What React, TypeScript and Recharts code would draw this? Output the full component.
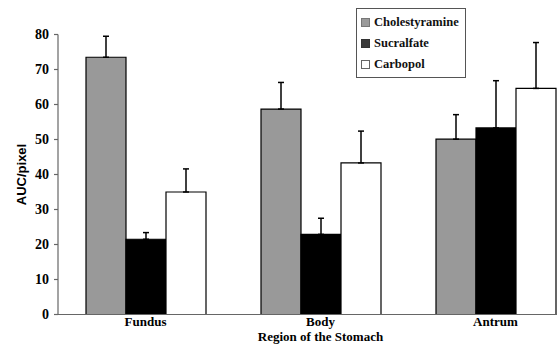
import React from 'react';
import { BarChart, Bar, XAxis, YAxis, ErrorBar } from 'recharts';

const categories = ['Fundus', 'Body', 'Antrum'];
const cholestyramine = [73.5, 58.7, 50.1];
const cholestyramineErr = [6.0, 7.6, 7.0];
const sucralfate = [21.5, 22.9, 53.3];
const sucralfateErr = [1.9, 4.6, 13.5];
const carbopol = [35.0, 43.3, 64.6];
const carbopolErr = [6.6, 9.1, 13.1];
const yTicks = [0, 10, 20, 30, 40, 50, 60, 70, 80];

const series = [
  { key: 'chol', name: 'Cholestyramine', fill: '#999999', swatch: '#9a9a9a', swatchBorder: '#777' },
  { key: 'sucr', name: 'Sucralfate', fill: '#000000', swatch: '#3a3a3a', swatchBorder: '#333' },
  { key: 'carb', name: 'Carbopol', fill: '#ffffff', swatch: '#ffffff', swatchBorder: '#666' },
];

const data = categories.map((c, i) => ({
  name: c,
  chol: cholestyramine[i],
  cholErr: [0, cholestyramineErr[i]],
  sucr: sucralfate[i],
  sucrErr: [0, sucralfateErr[i]],
  carb: carbopol[i],
  carbErr: [0, carbopolErr[i]],
}));

const serif = 'Times New Roman';

export default function App() {
  return (
    <div style={{ position: 'absolute', left: 0, top: 0, width: 557, height: 346, overflow: 'hidden', background: '#fff' }}>
      <div
        style={{
          position: 'absolute',
          left: 356,
          top: 8,
          zIndex: 2,
          border: '1px solid #555',
          background: '#fff',
          padding: '3px 6px 2px 4px',
          fontFamily: serif,
          fontWeight: 'bold',
          fontSize: 12.5,
          color: '#111',
          whiteSpace: 'nowrap',
        }}
      >
        {series.map((s) => (
          <div key={s.key} style={{ display: 'flex', alignItems: 'center', height: 21 }}>
            <span
              style={{
                display: 'inline-block',
                width: 7,
                height: 7,
                background: s.swatch,
                border: `1px solid ${s.swatchBorder}`,
                marginRight: 4,
              }}
            />
            <span>{s.name}</span>
          </div>
        ))}
      </div>
      <BarChart
        width={600}
        height={346}
        data={data}
        margin={{ top: 34.5, right: 17, bottom: 0, left: 0 }}
        barCategoryGap={28}
        barGap={0}
      >
        <XAxis
          dataKey="name"
          tickLine={false}
          tickSize={0}
          tickMargin={2}
          height={31.5}
          axisLine={{ stroke: '#666', strokeWidth: 1.2 }}
          tick={{ fill: '#000', fontFamily: serif, fontWeight: 'bold', fontSize: 13 }}
          label={{
            value: 'Region of the Stomach',
            position: 'insideBottom',
            offset: 5,
            fill: '#000',
            fontFamily: serif,
            fontWeight: 'bold',
            fontSize: 13,
          }}
        />
        <YAxis
          domain={[0, 80]}
          ticks={yTicks}
          width={58}
          tickSize={4}
          tickMargin={5}
          axisLine={{ stroke: '#666', strokeWidth: 1.2 }}
          tickLine={{ stroke: '#666', strokeWidth: 1.2 }}
          tick={{ fill: '#000', fontFamily: serif, fontWeight: 'bold', fontSize: 14 }}
          label={{
            value: 'AUC/pixel',
            angle: -90,
            position: 'insideLeft',
            offset: 21,
            fill: '#000',
            fontFamily: 'Arial',
            fontWeight: 'bold',
            fontSize: 13,
            style: { textAnchor: 'middle' },
          }}
        />
        {series.map((s) => (
          <Bar
            key={s.key}
            dataKey={s.key}
            name={s.name}
            fill={s.fill}
            stroke="#000"
            strokeWidth={1.2}
            isAnimationActive={false}
          >
            <ErrorBar dataKey={`${s.key}Err`} width={3} stroke="#000" strokeWidth={1.5} direction="y" />
          </Bar>
        ))}
      </BarChart>
    </div>
  );
}
